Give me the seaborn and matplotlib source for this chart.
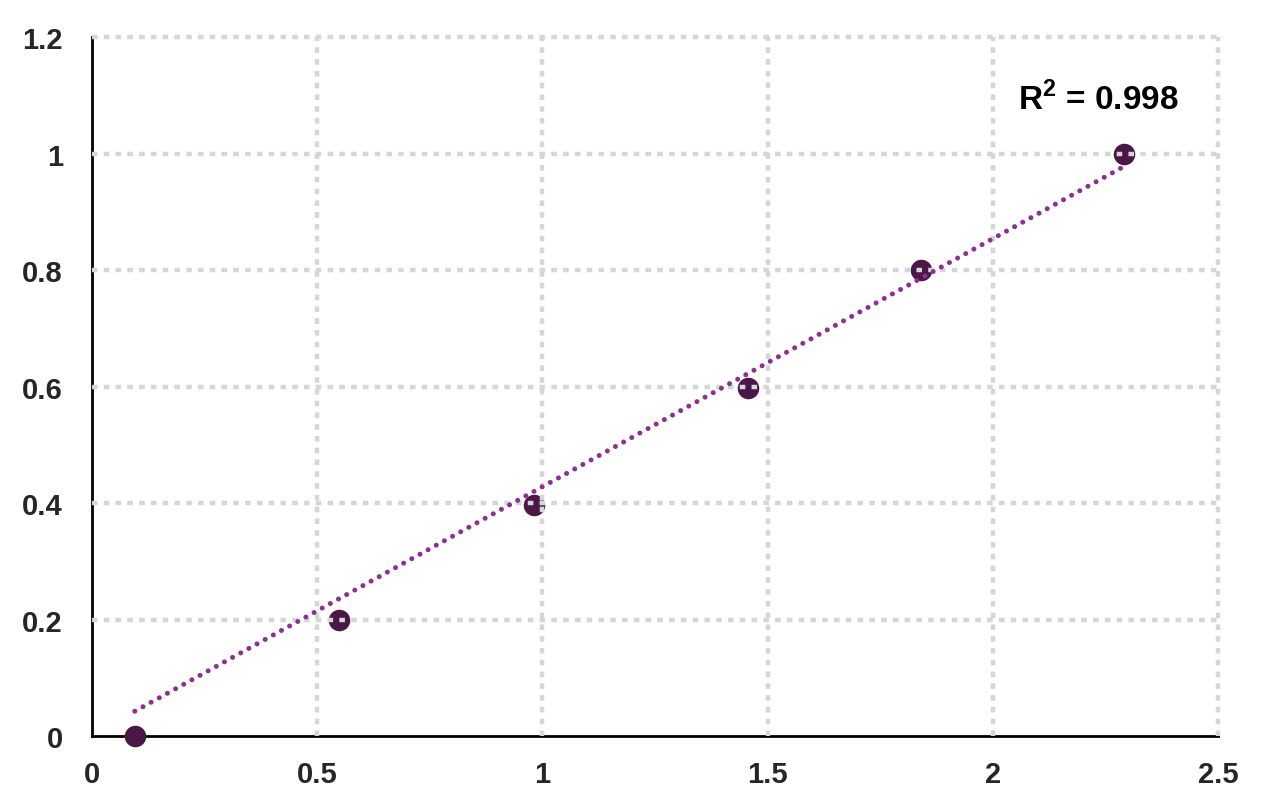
import numpy as np
import pandas as pd
import matplotlib
matplotlib.use("Agg")
import matplotlib.pyplot as plt
import seaborn as sns

# ── Data ────────────────────────────────────────────────────────────────────
concentration = [0.095, 0.549, 0.981, 1.456, 1.840, 2.291]
response = [0.0, 0.2, 0.397, 0.597, 0.8, 1.0]
# Excel-style linear trendline as drawn in the reference
trend_slope = 0.426
trend_intercept = 0.002
r_squared = "0.998"

x_ticks = [0, 0.5, 1, 1.5, 2, 2.5]
x_tick_labels = ["0", "0.5", "1", "1.5", "2", "2.5"]
y_ticks = [0, 0.2, 0.4, 0.6, 0.8, 1, 1.2]
y_tick_labels = ["0", "0.2", "0.4", "0.6", "0.8", "1", "1.2"]

POINT_COLOR = "#4a1747"
LINE_COLOR = "#8c3091"
GRID_COLOR = "#d6d6d6"

df = pd.DataFrame({"x": concentration, "y": response})
trend = pd.DataFrame({"x": concentration})
trend["y"] = trend_slope * trend["x"] + trend_intercept

sns.set_style("white")
plt.rcParams["font.family"] = ["Liberation Sans", "DejaVu Sans"]
plt.rcParams["mathtext.fontset"] = "custom"
plt.rcParams["mathtext.rm"] = "Liberation Sans:bold"
plt.rcParams["mathtext.bf"] = "Liberation Sans:bold"

fig = plt.figure(figsize=(12.8, 8.12), dpi=100)
ax = fig.add_axes([0.0719, 0.0924, 0.8797, 0.8606])

# points sit underneath the grid, trend line on top
sns.scatterplot(data=df, x="x", y="y", ax=ax, color=POINT_COLOR, s=240,
                edgecolor=POINT_COLOR, linewidth=0, zorder=1, clip_on=False)
line = sns.lineplot(data=trend, x="x", y="y", ax=ax, color=LINE_COLOR,
                    linewidth=3.6, zorder=3).lines[-1]
line.set_linestyle((0, (0.01, 1.85)))
line.set_dash_capstyle("round")

ax.set_xlim(0, 2.5)
ax.set_ylim(0, 1.2)
ax.set_xticks(x_ticks)
ax.set_xticklabels(x_tick_labels)
ax.set_yticks(y_ticks)
ax.set_yticklabels(y_tick_labels)
ax.set_xlabel("")
ax.set_ylabel("")

ax.set_axisbelow(False)
ax.grid(True, color=GRID_COLOR, linestyle=(0, (1.25, 1.4)), linewidth=3.2)
for gl in ax.get_xgridlines() + ax.get_ygridlines():
    gl.set_zorder(2)
    gl.set_clip_on(False)
# no grid line on top of the axis lines themselves
ax.get_xgridlines()[0].set_visible(False)
ax.get_ygridlines()[0].set_visible(False)

for side in ["top", "right"]:
    ax.spines[side].set_visible(False)
for side in ["left", "bottom"]:
    ax.spines[side].set_color("black")
    ax.spines[side].set_linewidth(2)
    ax.spines[side].set_zorder(0.8)

ax.tick_params(axis="both", direction="out", length=7, width=1.8,
               color="black", labelsize=21)
ax.tick_params(axis="x", pad=10)
ax.tick_params(axis="y", pad=14)
for lbl in ax.get_xticklabels() + ax.get_yticklabels():
    lbl.set_fontweight("bold")

ax.text(2.235, 1.094, "R$^{\\mathbf{2}}$ = " + r_squared, fontsize=24,
        fontweight="bold", ha="center", va="center", color="black")

fig.savefig("out.png", dpi=100, facecolor="white")
